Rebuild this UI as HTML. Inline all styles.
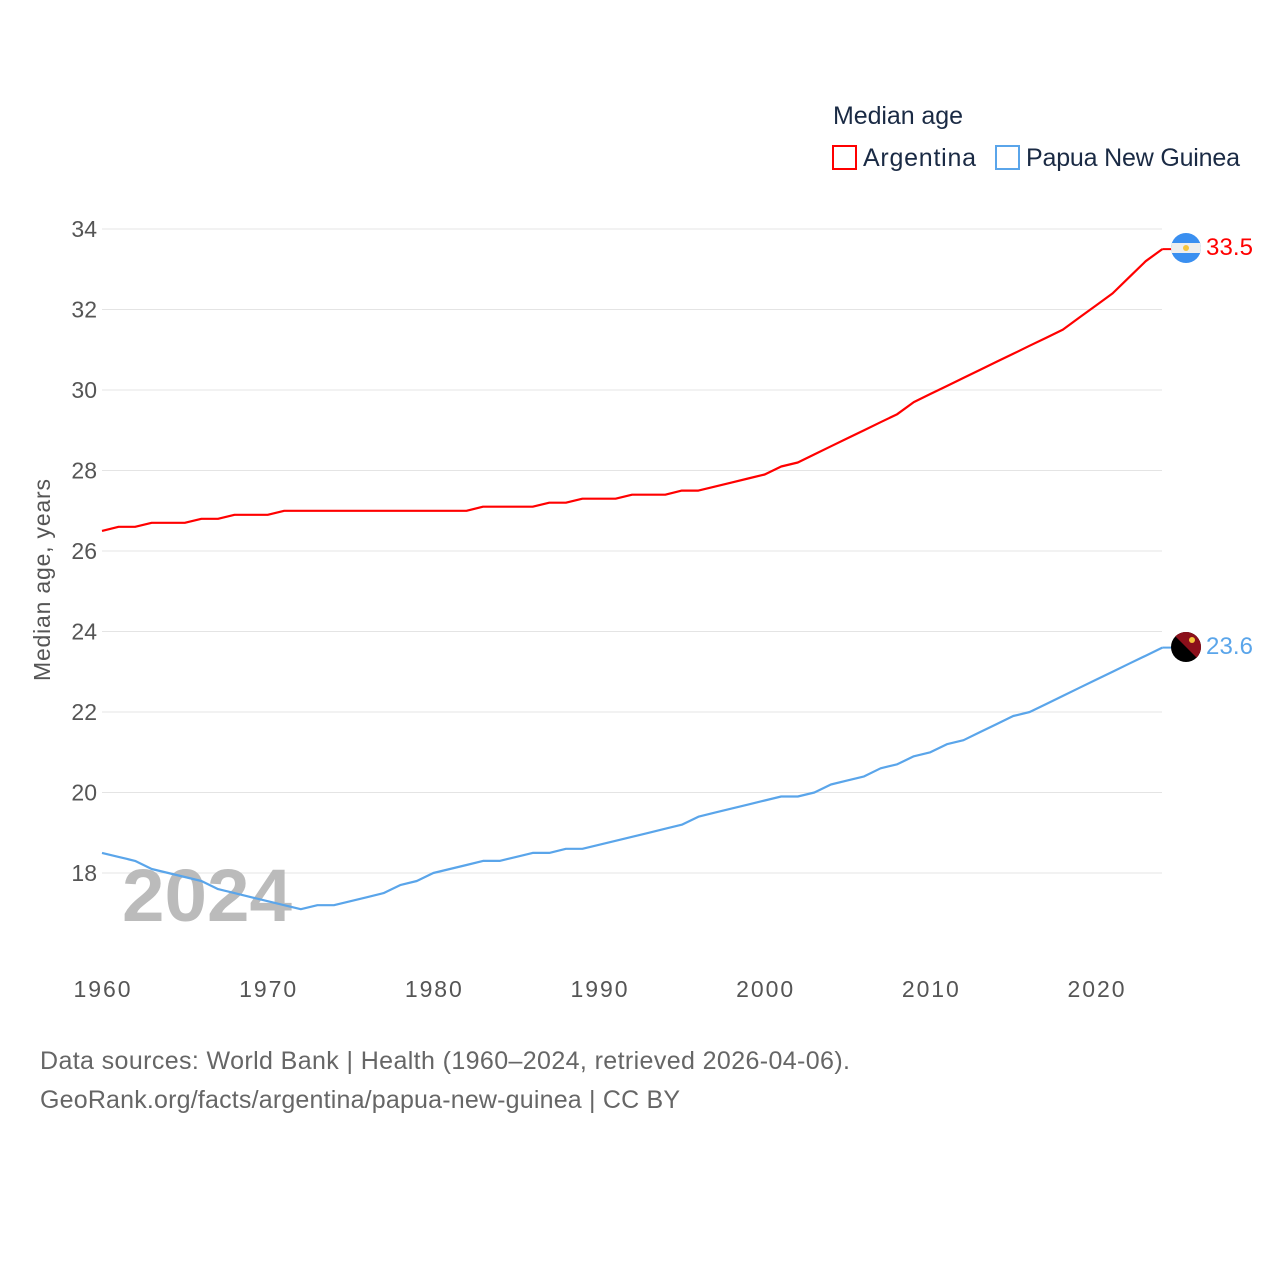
<!DOCTYPE html>
<html><head><meta charset="utf-8"><style>
body{margin:0;background:#fff;font-family:"Liberation Sans",sans-serif;}
</style></head><body>
<svg id="chart" width="1280" height="1280" xmlns="http://www.w3.org/2000/svg">
<rect width="1280" height="1280" fill="#fff"/>
<g id="grid"></g>
<g id="yticks" font-size="23" fill="#555"></g>
<g id="xticks" font-size="23" fill="#555"></g>
<text x="122" y="921" font-size="74" font-weight="bold" fill="#bbb" textLength="170" lengthAdjust="spacingAndGlyphs">2024</text>
<g id="lines"></g>
<text transform="translate(50,580) rotate(-90)" text-anchor="middle" font-size="23" fill="#555" textLength="202">Median age, years</text>
<text x="833" y="124" font-size="25" fill="#1a2a44" textLength="130">Median age</text>
<g><rect x="833" y="146" width="23" height="23" fill="none" stroke="#f00" stroke-width="2"/><text x="863" y="166" font-size="25" fill="#1a2a44" textLength="113">Argentina</text></g>
<g><rect x="996" y="146" width="23" height="23" fill="none" stroke="#5aa5ea" stroke-width="2"/><text x="1026" y="166" font-size="25" fill="#1a2a44" textLength="214">Papua New Guinea</text></g>
<g><clipPath id="ca"><circle cx="1186" cy="248" r="15"/></clipPath><g clip-path="url(#ca)"><rect x="1170" y="232" width="32" height="32" fill="#3a8ff0"/><rect x="1170" y="243" width="32" height="10" fill="#eee"/></g><circle cx="1186" cy="248" r="3" fill="#f5c43c"/></g>
<g><clipPath id="cp"><circle cx="1186" cy="647" r="15"/></clipPath><g clip-path="url(#cp)"><rect x="1170" y="631" width="32" height="32" fill="#000"/><polygon points="1170,631 1202,631 1202,663" fill="#8b0f1a"/></g><circle cx="1192" cy="640" r="3" fill="#f5c43c"/></g>
<text x="1206" y="255" font-size="24" fill="#f00" textLength="47">33.5</text>
<text x="1206" y="654" font-size="24" fill="#5aa5ea" textLength="47">23.6</text>
<text x="40" y="1069" font-size="25" fill="#666" textLength="810">Data sources: World Bank | Health (1960–2024, retrieved 2026-04-06).</text>
<text x="40" y="1108" font-size="25" fill="#666" textLength="640">GeoRank.org/facts/argentina/papua-new-guinea | CC BY</text>
</svg>
<script>
const startYear = 1960;
const argentina = [26.5,26.6,26.6,26.7,26.7,26.7,26.8,26.8,26.9,26.9,26.9,27.0,27.0,27.0,27.0,27.0,27.0,27.0,27.0,27.0,27.0,27.0,27.0,27.1,27.1,27.1,27.1,27.2,27.2,27.3,27.3,27.3,27.4,27.4,27.4,27.5,27.5,27.6,27.7,27.8,27.9,28.1,28.2,28.4,28.6,28.8,29.0,29.2,29.4,29.7,29.9,30.1,30.3,30.5,30.7,30.9,31.1,31.3,31.5,31.8,32.1,32.4,32.8,33.2,33.5];
const png = [18.5,18.4,18.3,18.1,18.0,17.9,17.8,17.6,17.5,17.4,17.3,17.2,17.1,17.2,17.2,17.3,17.4,17.5,17.7,17.8,18.0,18.1,18.2,18.3,18.3,18.4,18.5,18.5,18.6,18.6,18.7,18.8,18.9,19.0,19.1,19.2,19.4,19.5,19.6,19.7,19.8,19.9,19.9,20.0,20.2,20.3,20.4,20.6,20.7,20.9,21.0,21.2,21.3,21.5,21.7,21.9,22.0,22.2,22.4,22.6,22.8,23.0,23.2,23.4,23.6];
const yTicks = [18,20,22,24,26,28,30,32,34];
const xTicks = [1960,1970,1980,1990,2000,2010,2020];
const NS='http://www.w3.org/2000/svg';
function xs(yr){return 102+(yr-1960)*(1096-102)/60;}
function ys(v){return 873-(v-18)*(873-229)/16;}
function mk(tag,attrs,parent){const e=document.createElementNS(NS,tag);for(const k in attrs)e.setAttribute(k,attrs[k]);parent.appendChild(e);return e;}
const grid=document.getElementById('grid'),yt=document.getElementById('yticks'),xt=document.getElementById('xticks'),lines=document.getElementById('lines');
yTicks.forEach(v=>{
 const l=mk('line',{x1:102,x2:1162,y1:ys(v),y2:ys(v),stroke:'#e4e4e4','stroke-width':1},grid);
 
 
 const t=mk('text',{x:97,y:ys(v)+8,'text-anchor':'end'},yt);t.textContent=v;
 
 
});
xTicks.forEach(v=>{
 const t=mk('text',{x:xs(v),y:997,'text-anchor':'middle',textLength:57},xt);t.textContent=v;
 
 
});
function draw(data,color,name){
 const pts=data.map((v,i)=>xs(startYear+i).toFixed(1)+','+ys(v).toFixed(1)).join(' ');
 const p=mk('polyline',{points:pts,fill:'none',stroke:color,'stroke-width':2.2,'stroke-linejoin':'round'},lines);
 
 
 const last=data[data.length-1];
 mk('line',{x1:xs(startYear+data.length-1),x2:1172,y1:ys(last),y2:ys(last),stroke:color,'stroke-width':2},lines);
}
draw(argentina,'#f00','line-argentina');
draw(png,'#5aa5ea','line-papua-new-guinea');
</script>
</body></html>
